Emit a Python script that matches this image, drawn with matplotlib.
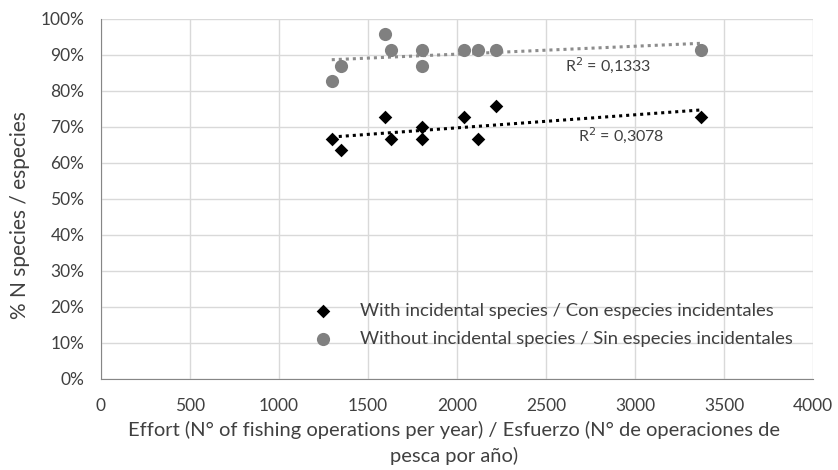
import numpy as np
import matplotlib
matplotlib.use("Agg")
import matplotlib.pyplot as plt
from matplotlib.ticker import PercentFormatter

plt.rcParams['font.family'] = ['Lato', 'DejaVu Sans']

effort = [1296, 1349, 1593, 1630, 1802, 1802, 2041, 2115, 2216, 3367]
with_incidental = [0.667, 0.636, 0.727, 0.667, 0.700, 0.667, 0.727, 0.667, 0.758, 0.727]
without_incidental = [0.826, 0.870, 0.957, 0.913, 0.913, 0.870, 0.913, 0.913, 0.913, 0.913]
label_with = "With incidental species / Con especies incidentales"
label_without = "Without incidental species / Sin especies incidentales"
r2_labels = ["R$^2$ = 0,3078", "R$^2$ = 0,1333"]

fig = plt.figure(figsize=(8.38, 4.70), dpi=100)
ax = fig.add_axes([0.1205, 0.194, 0.850, 0.766])

x = np.array(effort, dtype=float)
xs = np.array([x.min(), x.max()])
for yv, col in [(with_incidental, 'black'), (without_incidental, '#8c8c8c')]:
    p = np.polyfit(x, np.array(yv), 1)
    ax.plot(xs, np.polyval(p, xs), linestyle=(0, (1, 1.3)), color=col, lw=2.2, zorder=2)

ax.scatter(effort, with_incidental, marker='D', s=48, color='black', zorder=3, label=label_with, linewidths=0)
ax.scatter(effort, without_incidental, marker='o', s=90, color='#808080', zorder=3, label=label_without, linewidths=0)

ax.text(2680, 0.678, r2_labels[0], fontsize=11.5, color='#404040', va='center', ha='left')
ax.text(2608, 0.872, r2_labels[1], fontsize=11.5, color='#404040', va='center', ha='left')

ax.set_xlim(0, 4000)
ax.set_ylim(0, 1.0)
ax.set_xticks(np.arange(0, 4001, 500))
ax.set_yticks(np.arange(0, 1.01, 0.1))
ax.yaxis.set_major_formatter(PercentFormatter(1.0, decimals=0))
ax.grid(True, color='#d9d9d9', lw=1)
ax.set_axisbelow(True)
for s in ['top', 'right']:
    ax.spines[s].set_visible(False)
for s in ['left', 'bottom']:
    ax.spines[s].set_color('#868686')
ax.tick_params(length=0, labelsize=12.5, colors='#404040')
ax.tick_params(axis='y', pad=12)
ax.tick_params(axis='x', pad=14)

ax.set_xlabel("Effort (N° of fishing operations per year) / Esfuerzo (N° de operaciones de\npesca por año)",
              fontsize=14.5, color='#404040', linespacing=1.5)
ax.xaxis.set_label_coords(0.495, -0.118)
ax.set_ylabel("% N species / especies", fontsize=15, color='#404040')
ax.yaxis.set_label_coords(-0.1, 0.455)

leg = ax.legend(loc='center left', bbox_to_anchor=(0.275, 0.15), frameon=False, fontsize=13.3,
                handletextpad=1.0, labelspacing=0.62, labelcolor='#404040', borderaxespad=0)

fig.savefig("out.png", dpi=100)
